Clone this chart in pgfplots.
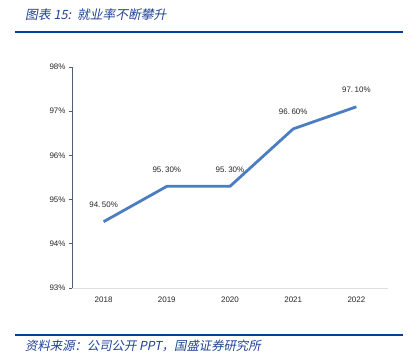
\documentclass[border=0pt]{standalone}
\usepackage{pgfplots}
\pgfplotsset{compat=1.18}
\usepackage{fontspec}
\setmainfont{Liberation Sans}
\newfontfamily\cjk[FakeSlant=0.2]{Noto Sans CJK SC}
\definecolor{titleblue}{RGB}{31,66,150}
\definecolor{ruleblue}{RGB}{0,64,152}
\definecolor{lineblue}{RGB}{74,126,193}
\definecolor{yaxis}{RGB}{80,95,120}
\begin{document}
\begin{tikzpicture}
\path[use as bounding box] (0bp,0bp) rectangle (412bp,-357bp);
\node[anchor=west,text=titleblue,font=\cjk\fontsize{12.8}{12.8}\selectfont,inner sep=0pt] at (25bp,-15bp) {图表 15:\, 就业率不断攀升};
\draw[ruleblue,line width=1.2bp] (15bp,-32bp) -- (403bp,-32bp);
\draw[ruleblue,line width=1.2bp] (15bp,-335bp) -- (403bp,-335bp);
\node[anchor=west,text=titleblue,font=\cjk\fontsize{12.4}{12.4}\selectfont,inner sep=0pt] at (25bp,-346bp) {资料来源：公司公开 PPT，国盛证券研究所};
\begin{axis}[
  at={(72bp,-288bp)}, anchor=south west,
  scale only axis, width=316bp, height=221bp,
  xmin=-0.5, xmax=4.5, ymin=93, ymax=98,
  xtick={0,1,2,3,4}, xticklabels={2018,2019,2020,2021,2022},
  ytick={93,94,95,96,97,98},
  yticklabel={\pgfmathprintnumber{\tick}\%},
  /pgf/number format/assume math mode=true,
  axis x line*=bottom, axis y line*=left,
  x axis line style={draw=gray!25, line width=0.8bp, -},
  y axis line style={draw=yaxis, line width=0.8bp, -},
  xtick style={draw=none},
  ytick style={draw=yaxis, line width=0.8bp},
  tick align=outside, major tick length=3bp,
  ticklabel style={font=\fontsize{8}{8}\selectfont, text=black!85},
  xticklabel style={yshift=-2bp},
  clip=false,
]
\addplot[lineblue, line width=2.8bp, line join=round,
  nodes near coords, point meta=explicit symbolic,
  every node near coord/.append style={anchor=center, yshift=17bp, font=\fontsize{8}{8}\selectfont, text=black!85}]
coordinates {(0,94.5) [94.\kern1.5bp 50\%] (1,95.3) [95.\kern1.5bp 30\%] (2,95.3) [95.\kern1.5bp 30\%] (3,96.6) [96.\kern1.5bp 60\%] (4,97.1) [97.\kern1.5bp 10\%]};
\end{axis}
\end{tikzpicture}
\end{document}
